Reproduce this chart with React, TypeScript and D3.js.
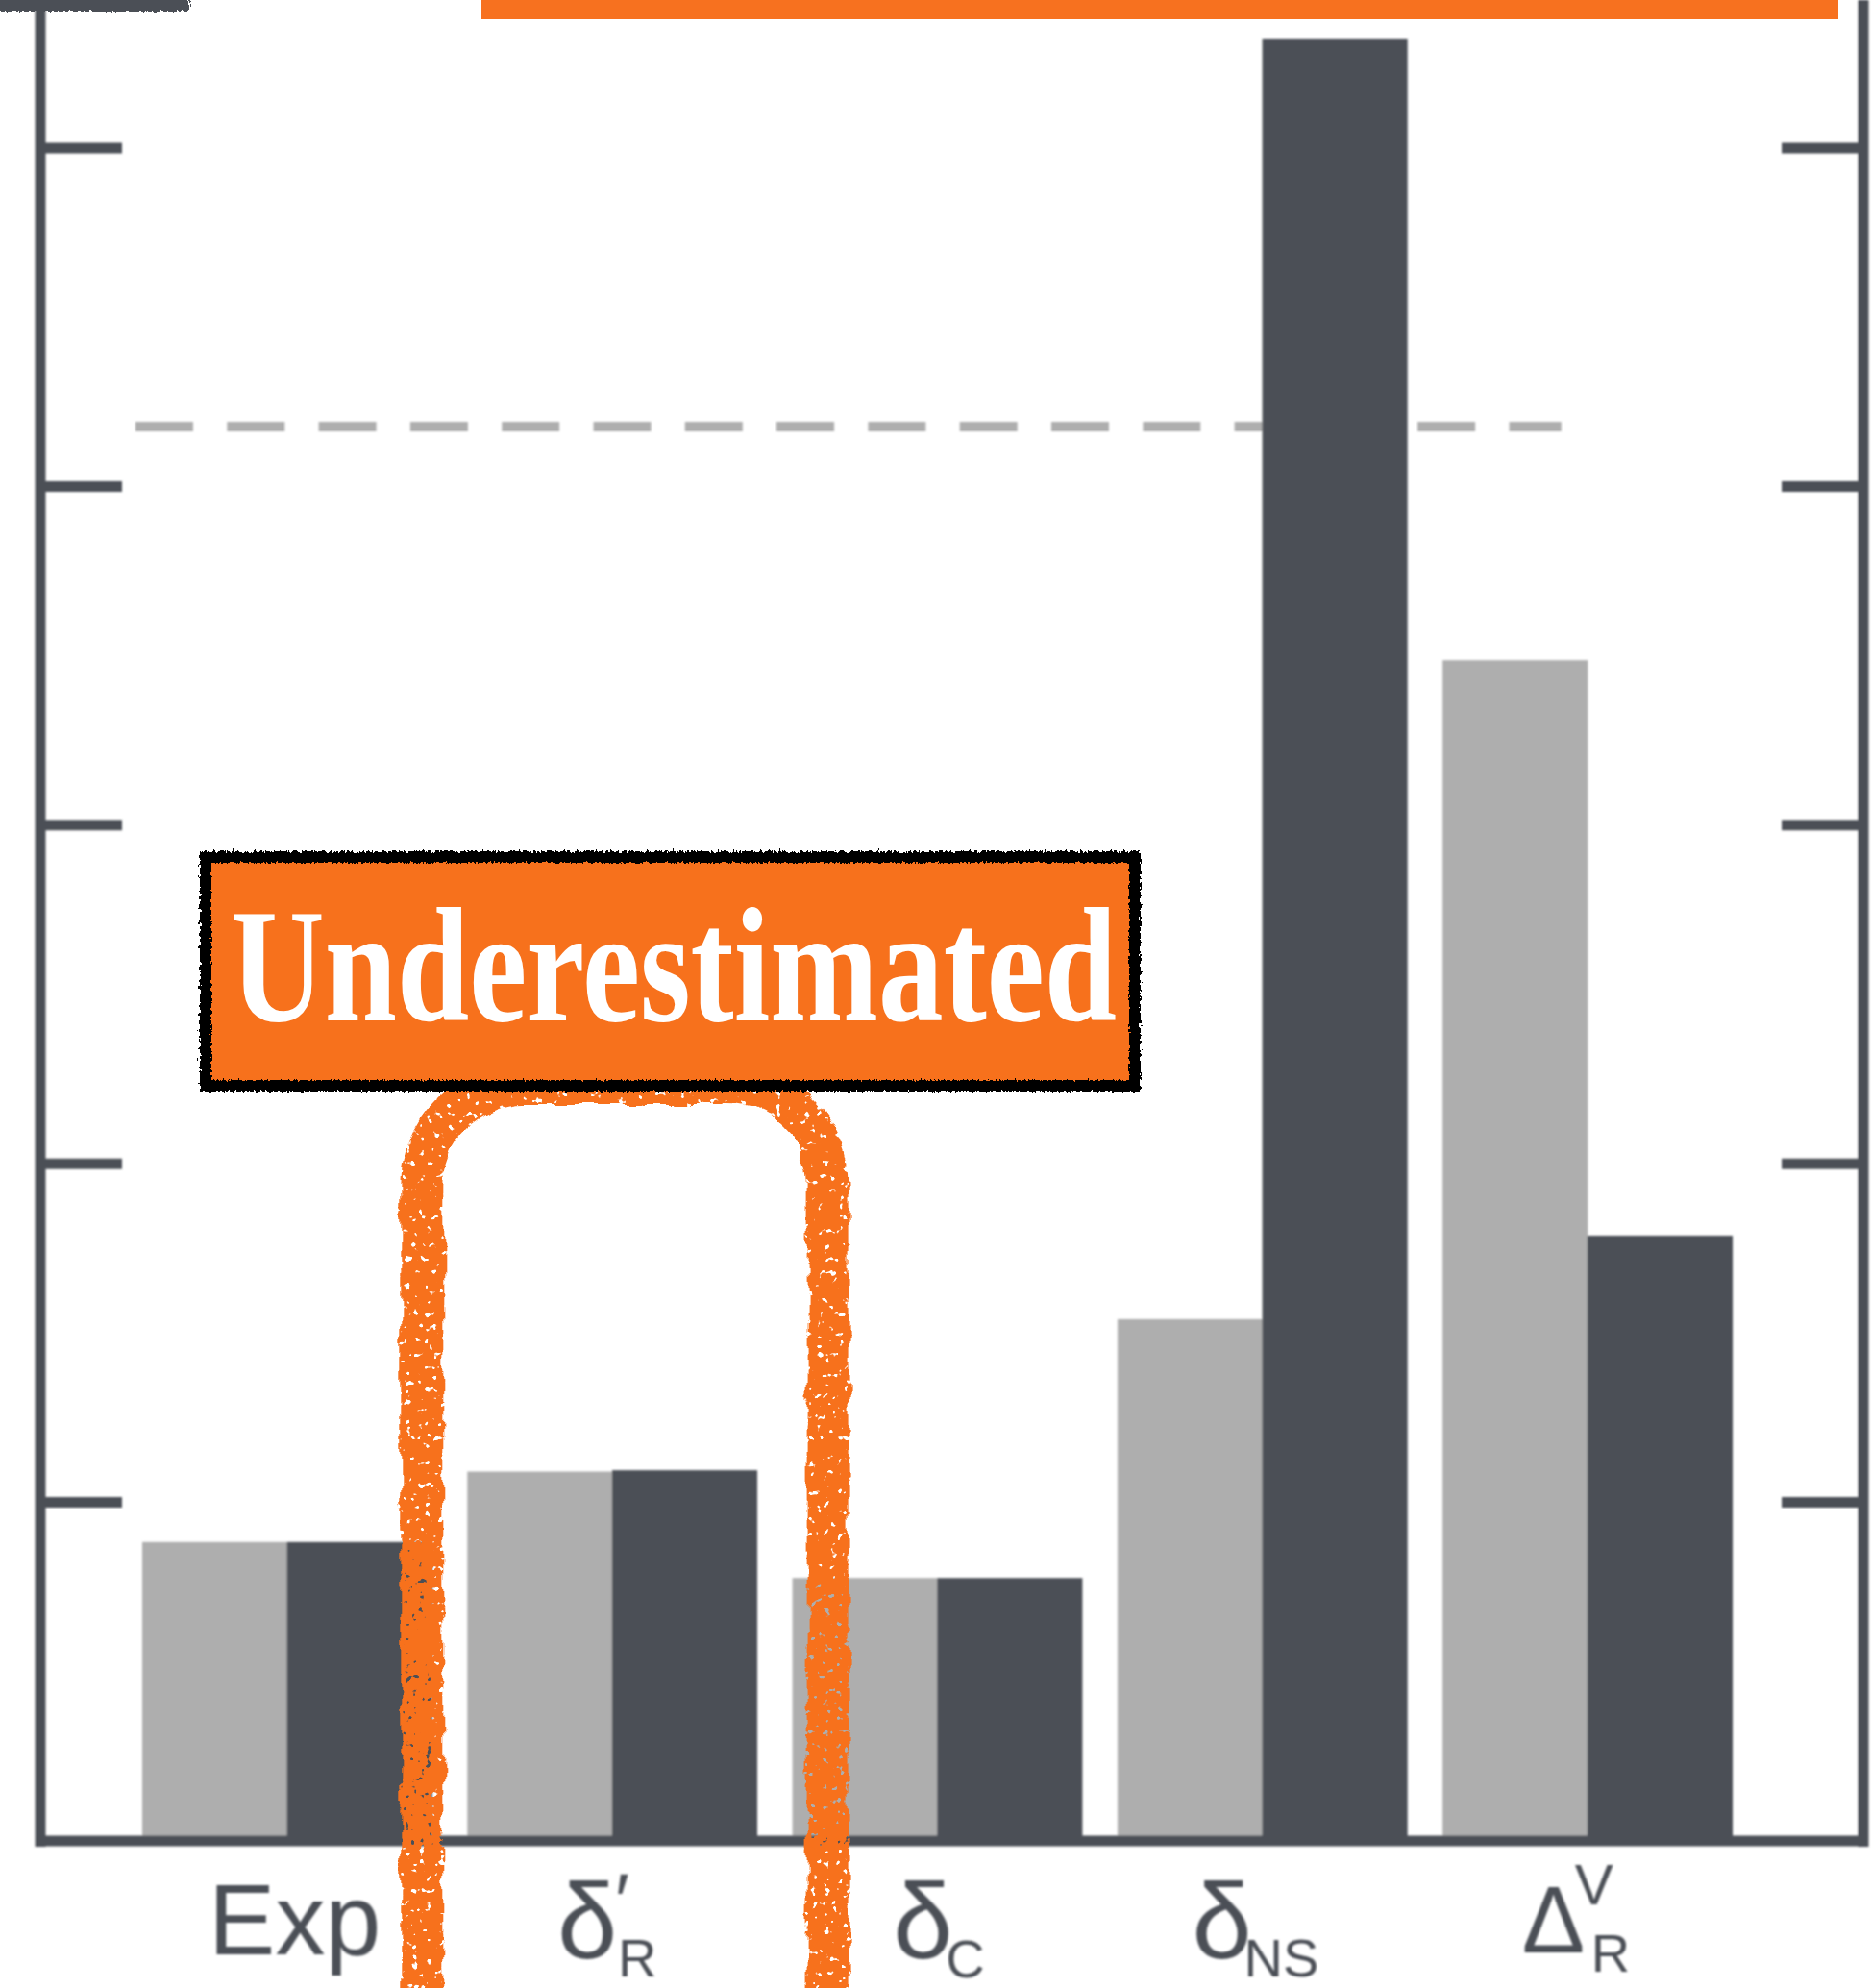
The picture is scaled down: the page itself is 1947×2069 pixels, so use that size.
import React from "react";
import * as d3 from "d3";

// ---- data ----
const categories = ["Exp", "δ′R", "δC", "δNS", "ΔVR"];
const seriesKeys = ["light", "dark"];
const lightValues = [0.883, 1.091, 0.777, 1.541, 3.487];
const darkValues = [0.883, 1.095, 0.777, 5.321, 1.788];
const tickValues = [1, 2, 3, 4, 5];
const referenceValue = 4.177;
const highlightedCategory = "δ′R";
const calloutText = "Underestimated";

// label pieces: main symbol, superscript, subscript
const labelMain = ["Exp", "δ", "δ", "δ", "Δ"];
const labelSup = ["", "′", "", "", "V"];
const labelSub = ["", "R", "C", "NS", "R"];

// ---- layout & style ----
const W = 1947;
const H = 2069;
const AXIS_LEFT = 42;
const AXIS_RIGHT = 1939;
const BASE_Y = 1916;
const TOP_Y = 154;
const TICK_LEN = 85;
const INK = "#4B4F56";
const LIGHT = "#AEAEAE";
const ORANGE = "#F7711F";
const SANS = "'Liberation Sans', Arial, Helvetica, sans-serif";

const LABEL_LAYOUT = [
  { main: 8, mainY: 2034, anchor: "middle", size: 104 },
  { main: -57, mainY: 2038, sup: 3, supSize: 80, supY: 2006, sub: 6, subY: 2057, size: 112 },
  { main: -46, mainY: 2038, sub: 9, subY: 2058, size: 112 },
  { main: -73, mainY: 2038, sub: -19, subY: 2057, size: 112 },
  { main: -68, mainY: 2032, sup: -13, supSize: 60, supY: 1982, sub: 4, subY: 2052, size: 98 },
];

export default function App() {
  const x = d3
    .scaleBand<string>()
    .domain(categories)
    .range([129.5, 1821])
    .paddingInner(0.1094)
    .paddingOuter(0.0547);
  const bw = x.bandwidth();
  const xs = d3.scaleBand<string>().domain(seriesKeys).range([0, bw]);
  const y = d3.scaleLinear().domain([0, 5]).range([BASE_Y, TOP_Y]);

  const rows = categories.map((c, i) => ({
    cat: c,
    vals: [
      { key: "light", v: lightValues[i] },
      { key: "dark", v: darkValues[i] },
    ],
  }));

  const refX0 = (x(categories[0]) as number) - 7;
  const refX1 = (x(categories[4]) as number) + bw * 0.41;

  // callout loop around the highlighted group
  const hx = x(highlightedCategory) as number;
  const loopL = hx - 47;
  const loopR = hx + bw + 74;
  const loopTop = 1128;
  const r = 105;
  const loopPath = d3.path();
  loopPath.moveTo(loopL, H + 60);
  loopPath.lineTo(loopL, loopTop + r);
  loopPath.arcTo(loopL, loopTop, loopL + r, loopTop, r);
  loopPath.lineTo(loopR - r, loopTop);
  loopPath.arcTo(loopR, loopTop, loopR, loopTop + r, r);
  loopPath.lineTo(loopR, H + 60);

  const box = { x0: 208, x1: 1187, y0: 886, y1: 1136 };

  return (
    <svg
      width={W}
      height={H}
      viewBox={`0 0 ${W} ${H}`}
      style={{ position: "absolute", left: 0, top: 0, background: "#fff" }}
    >
      <defs>
        <filter id="soft" x="-2%" y="-2%" width="104%" height="104%">
          <feGaussianBlur stdDeviation="0.9" />
        </filter>
        <filter id="chalk" filterUnits="userSpaceOnUse" x="360" y="1060" width="580" height="1080">
          <feTurbulence type="fractalNoise" baseFrequency="0.035" numOctaves="3" seed="4" result="n1" />
          <feDisplacementMap in="SourceGraphic" in2="n1" scale="14" xChannelSelector="R" yChannelSelector="G" result="d" />
          <feTurbulence type="fractalNoise" baseFrequency="0.14" numOctaves="2" seed="11" result="n2" />
          <feColorMatrix
            in="n2"
            type="matrix"
            values="0 0 0 0 0  0 0 0 0 0  0 0 0 0 0  16 0 0 0 -4.3"
            result="m"
          />
          <feComposite in="d" in2="m" operator="in" />
        </filter>
        <filter id="jag" filterUnits="userSpaceOnUse" x="-20" y="-20" width={W + 40} height={H + 40}>
          <feTurbulence type="fractalNoise" baseFrequency="0.45 0.2" numOctaves="2" seed="2" result="n" />
          <feDisplacementMap in="SourceGraphic" in2="n" scale="8" xChannelSelector="R" yChannelSelector="G" />
        </filter>
        <filter id="jag2" filterUnits="userSpaceOnUse" x="-20" y="-20" width={W + 40} height={H + 40}>
          <feTurbulence type="fractalNoise" baseFrequency="0.5 0.25" numOctaves="2" seed="9" result="n" />
          <feDisplacementMap in="SourceGraphic" in2="n" scale="6" xChannelSelector="G" yChannelSelector="R" />
        </filter>
      </defs>

      {/* base chart */}
      <g filter="url(#soft)">
        <line
          x1={refX0}
          x2={refX1}
          y1={y(referenceValue)}
          y2={y(referenceValue)}
          stroke={LIGHT}
          strokeWidth={10}
          strokeDasharray="60 35.3"
        />
        {rows.map((row) => (
          <g key={row.cat} transform={`translate(${x(row.cat)},0)`}>
            {row.vals.map((d) => (
              <rect
                key={d.key}
                x={xs(d.key)}
                y={y(d.v)}
                width={xs.bandwidth() + 0.5}
                height={BASE_Y - y(d.v)}
                fill={d.key === "light" ? LIGHT : INK}
              />
            ))}
          </g>
        ))}
        {/* frame */}
        <line x1={AXIS_LEFT} x2={AXIS_LEFT} y1={0} y2={BASE_Y + 6} stroke={INK} strokeWidth={11} />
        <line x1={AXIS_RIGHT} x2={AXIS_RIGHT} y1={0} y2={BASE_Y + 6} stroke={INK} strokeWidth={11} />
        <line x1={AXIS_LEFT - 5} x2={AXIS_RIGHT + 5} y1={BASE_Y} y2={BASE_Y} stroke={INK} strokeWidth={11} />
        {tickValues.map((t) => (
          <g key={t}>
            <line x1={AXIS_LEFT} x2={AXIS_LEFT + TICK_LEN} y1={y(t)} y2={y(t)} stroke={INK} strokeWidth={11} />
            <line x1={AXIS_RIGHT - TICK_LEN} x2={AXIS_RIGHT} y1={y(t)} y2={y(t)} stroke={INK} strokeWidth={11} />
          </g>
        ))}
        {/* category labels */}
        {categories.map((c, i) => {
          const cx = (x(c) as number) + bw / 2;
          const L = LABEL_LAYOUT[i] as any;
          return (
            <g key={c} fill={INK} fontFamily={SANS}>
              <text
                x={cx + L.main}
                y={L.mainY}
                fontSize={L.size}
                fontWeight={300}
                textAnchor={L.anchor || "start"}
              >
                {labelMain[i]}
              </text>
              {labelSup[i] && (
                <text x={cx + L.sup} y={L.supY} fontSize={L.supSize}>
                  {labelSup[i]}
                </text>
              )}
              {labelSub[i] && (
                <text x={cx + L.sub} y={L.subY} fontSize={56}>
                  {labelSub[i]}
                </text>
              )}
            </g>
          );
        })}
      </g>

      {/* header strip and corner mark */}
      <rect x={501} y={0} width={1412} height={20} fill={ORANGE} />
      <rect x={-10} y={-10} width={207} height={22} fill={INK} filter="url(#jag)" />

      {/* hand-drawn loop */}
      <path
        d={loopPath.toString()}
        fill="none"
        stroke={ORANGE}
        strokeWidth={44}
        filter="url(#chalk)"
      />

      {/* callout box */}
      <rect
        x={box.x0}
        y={box.y0}
        width={box.x1 - box.x0}
        height={box.y1 - box.y0}
        fill="#000"
        filter="url(#jag)"
      />
      <rect
        x={box.x0 + 12}
        y={box.y0 + 12}
        width={box.x1 - box.x0 - 24}
        height={box.y1 - box.y0 - 24}
        fill={ORANGE}
        filter="url(#jag2)"
      />
      <text
        x={240}
        y={1062}
        fill="#fff"
        fontFamily="'Liberation Serif', 'Times New Roman', serif"
        fontWeight={700}
        fontSize={170}
        textLength={922}
        lengthAdjust="spacingAndGlyphs"
      >
        {calloutText}
      </text>
    </svg>
  );
}
